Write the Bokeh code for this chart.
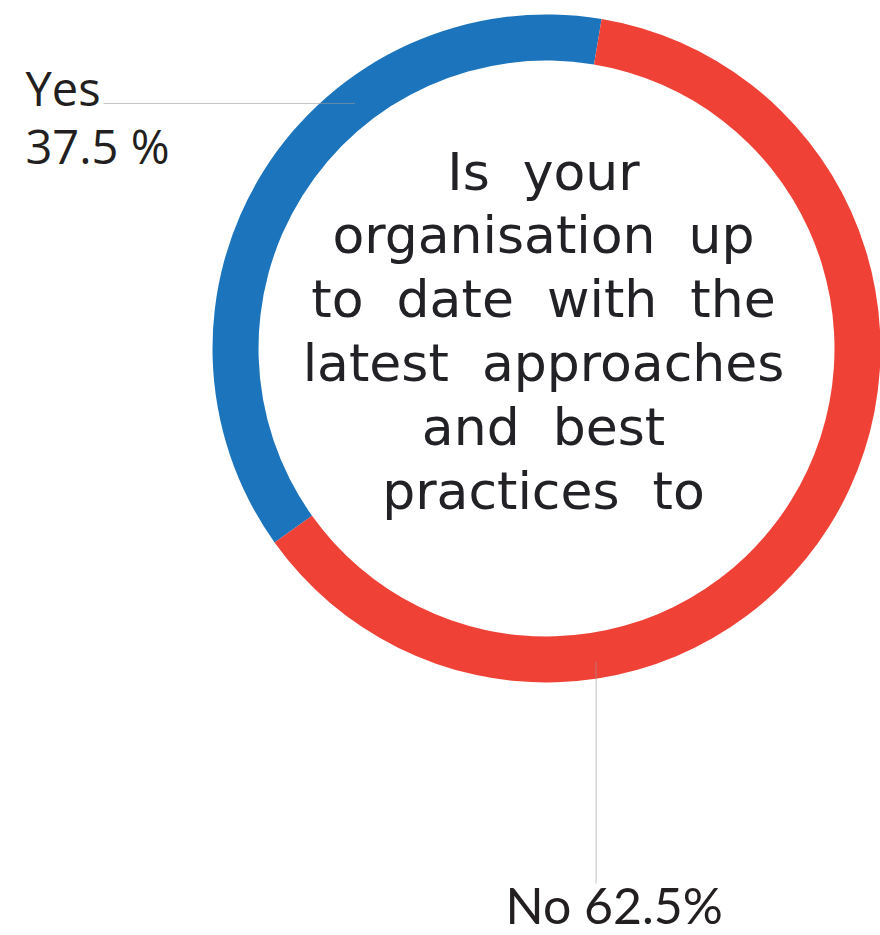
import math

from bokeh.core.properties import value
from bokeh.embed import file_html
from bokeh.models import ColumnDataSource, Range1d
from bokeh.plotting import figure
from bokeh.resources import INLINE

# Survey answers
answers = ["Yes", "No"]
shares = [37.5, 62.5]
colors = ["#1C75BC", "#EF4136"]
answer_labels = ["Yes\n37.5 %", "No 62.5%"]

question_lines = [
    "Is \u00a0your",
    "organisation \u00a0up",
    "to \u00a0date \u00a0with \u00a0the",
    "latest \u00a0approaches",
    "and \u00a0best",
    "practices \u00a0to",
]

W, H = 880, 935
cx, cy = 546, H - 348
r_out, r_in = 334, 288
blue_start_deg = 80.5  # where the "Yes" arc begins (anticlockwise from +x)
lift = 18  # baseline correction for the svg text renderer

# wedge angles from the shares
starts, ends = [], []
a = math.radians(blue_start_deg)
for s in shares:
    span = 2 * math.pi * s / 100.0
    starts.append(a)
    ends.append(a + span)
    a += span

src = ColumnDataSource(dict(answer=answers, share=shares, color=colors,
                            start=starts, end=ends))

p = figure(width=W, height=H, output_backend="svg", toolbar_location=None,
           x_range=Range1d(0, W), y_range=Range1d(0, H), min_border=0,
           background_fill_color="white", border_fill_color="white")
p.axis.visible = False
p.grid.visible = False
p.outline_line_color = None

p.annular_wedge(x=cx, y=cy, inner_radius=r_in, outer_radius=r_out,
                start_angle="start", end_angle="end", color="color",
                line_color=None, source=src)

# leader lines from the ring to each label
r_mid = (r_in + r_out) / 2
yes_ang = math.radians(128)
yx, yy = cx + r_mid * math.cos(yes_ang), cy + r_mid * math.sin(yes_ang)
p.line([103, yx], [yy, yy], line_color="#9a9a9a", line_alpha=0.6, line_width=1)

no_ang = math.radians(-81)
nx, ny = cx + (r_mid + 6) * math.cos(no_ang), cy + (r_mid + 6) * math.sin(no_ang)
p.line([nx, nx], [ny, H - 883], line_color="#9a9a9a", line_alpha=0.6, line_width=1)

# answer labels
yes_txt, yes_pct = answer_labels[0].split("\n")
p.text(x=[25, 25], y=[H - 105 + lift, H - 163 + lift], text=[yes_txt, yes_pct],
       text_font=value("Open Sans"), text_font_size="47px",
       text_color="#231F20", text_baseline="alphabetic", text_align="left")
p.text(x=[505], y=[H - 922 + lift], text=[answer_labels[1]],
       text_font=value("Lato"), text_font_size="50px",
       text_color="#231F20", text_baseline="alphabetic", text_align="left")

# question in the middle of the ring
base0 = 189
step = 63.8
ys = [H - (base0 + i * step) + lift for i in range(len(question_lines))]
p.text(x=[543] * len(question_lines), y=ys, text=question_lines,
       text_font=value("DejaVu Sans"), text_font_size="52px",
       text_color="#222226", text_baseline="alphabetic", text_align="center")

open("out.html", "w").write(file_html(p, INLINE))
